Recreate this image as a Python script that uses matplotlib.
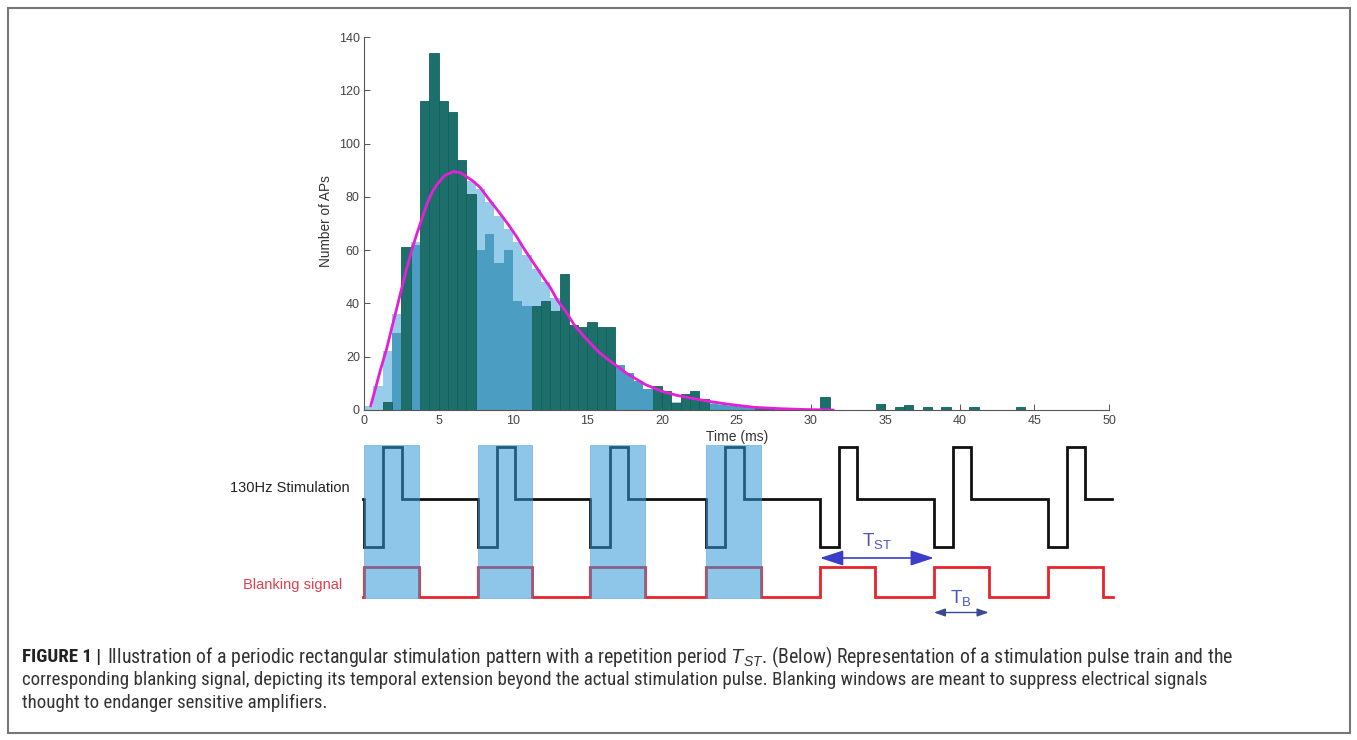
import matplotlib
matplotlib.use("Agg")
import matplotlib.pyplot as plt
from matplotlib.patches import Rectangle
from matplotlib import font_manager as fm

W, H = 1357, 740
plt.rcParams['font.family'] = ['Liberation Sans', 'DejaVu Sans']
plt.rcParams['mathtext.fontset'] = 'custom'
plt.rcParams['mathtext.rm'] = 'Liberation Sans'
plt.rcParams['mathtext.it'] = 'Liberation Sans:italic'
plt.rcParams['mathtext.bf'] = 'Liberation Sans:bold'

# ---------------- data ----------------
bin_width_ms = 0.625

# light-blue histogram (bins start at 0 ms, every 0.625 ms)
model_counts = [1.5, 9, 22, 36, 50, 63, 74, 81, 86, 88, 88, 86, 83, 78, 73, 68, 63,
                58, 53, 48, 42, 37, 32, 28, 24, 20, 17, 14, 11.5, 9.5, 8, 7, 6, 3,
                4.3, 3.7, 3.1, 2.6, 2.2, 1.8, 1.4, 1.1, 0.9, 0.7, 0.5, 0.4, 0.3,
                0.2, 0.2, 0.1, 0.1]

# medium-blue histogram
mid_left = [1.875, 3.125, 7.5, 8.125, 8.75, 9.375, 10.0, 10.625, 16.875, 17.5,
            18.125, 18.75, 23.125, 23.75, 24.375, 25.0, 25.625]
mid_counts = [29, 62, 60, 66, 55, 60, 41, 39, 17, 14, 11, 8, 2.2, 1.8, 1.5, 1.2, 1.0]

# dark-teal histogram
teal_left = [1.25, 2.5, 3.75, 4.375, 5.0, 5.625, 6.25, 6.875, 11.25, 11.875, 12.5,
             13.125, 13.75, 14.375, 15.0, 15.625, 16.25, 19.375, 20.0, 20.625,
             21.25, 21.875, 22.5, 26.25, 26.875, 30.625, 34.375, 35.625, 36.25,
             37.5, 38.75, 40.625, 43.75]
teal_counts = [3, 61, 116, 134, 116, 112, 94, 81, 39, 41, 37, 51, 32, 31, 33, 31,
               31, 9, 7, 2.5, 6, 7.3, 4, 1.2, 1.2, 5, 2.2, 1, 2, 1, 1, 1, 1]

# fitted curve (magenta)
curve_t = [0.45, 0.74, 1.1, 1.52, 1.85, 2.19, 2.5, 2.86, 3.2, 3.54, 3.9, 4.2, 4.55,
           4.88, 5.4, 6.0, 6.5, 6.9, 7.3, 7.8, 8.4, 9.1, 9.7, 10.25, 10.8, 11.4,
           12.0, 12.5, 13.0, 13.6, 14.1, 14.7, 15.2, 15.8, 16.6, 17.7, 18.9,
           20.0, 21.0, 22.0, 23.2, 24.4, 26.2, 27.9, 29.5, 31.5]
curve_v = [1.5, 7.5, 15, 23, 30.5, 38, 45, 53, 60, 66, 72, 77, 81.5, 84.5, 88,
           89.5, 89, 87.5, 86, 83.5, 79, 74, 69.5, 65, 60, 55, 50, 46, 41, 36.5,
           32, 28, 25, 21.5, 18, 13.5, 9.5, 7, 5.5, 4.4, 3.2, 2.2, 1.0, 0.5, 0.2, 0]

x_ticks = [0, 5, 10, 15, 20, 25, 30, 35, 40, 45, 50]
y_ticks = [0, 20, 40, 60, 80, 100, 120, 140]

# stimulation / blanking signals (ms)
pulse_starts = [0.0, 7.63, 15.2, 22.95, 30.6, 38.25, 45.9]
neg_phase_ms = 1.28
pos_phase_ms = 1.24
blank_ms = 3.67
n_shaded = 4

caption_lines = [
    "Illustration of a periodic rectangular stimulation pattern with a repetition "
    "period $T_{ST}$. (Below) Representation of a stimulation pulse train and the",
    "corresponding blanking signal, depicting its temporal extension beyond the actual "
    "stimulation pulse. Blanking windows are meant to suppress electrical signals",
    "thought to endanger sensitive amplifiers.",
]

# ---------------- colours ----------------
C_TEAL = '#1d6f6b'
C_MID = '#4c9dc2'
C_LIGHT = '#98cdea'
C_CURVE = '#e41fd6'
C_SHADE = '#2f98d6'
C_RED = '#e8232b'
C_ARROW = '#3b3ec9'

fig = plt.figure(figsize=(W / 100, H / 100), dpi=100)

# overlay (pixel coordinates)
ax0 = fig.add_axes([0, 0, 1, 1], zorder=-1)
ax0.set_xlim(0, W)
ax0.set_ylim(H, 0)
ax0.axis('off')
ax0.add_patch(Rectangle((8, 8), 1342, 725, fill=False, ec='#777777', lw=1.5))

# ---------------- histogram ----------------
ax = fig.add_axes([364 / W, 1 - 410 / H, 745 / W, 373 / H])
model_left = [k * bin_width_ms for k in range(len(model_counts))]
ax.bar(model_left, model_counts, width=bin_width_ms, align='edge', color=C_LIGHT,
       lw=0, zorder=1)
ax.bar(mid_left, mid_counts, width=bin_width_ms, align='edge', color=C_MID,
       lw=0, zorder=2)
ax.bar(teal_left, teal_counts, width=bin_width_ms, align='edge', color=C_TEAL,
       ec='#15605c', lw=0.6, zorder=3)
ax.plot(curve_t, curve_v, color=C_CURVE, lw=2.0, zorder=4, solid_capstyle='round')
ax.set_xlim(0, 50)
ax.set_ylim(0, 140)
ax.set_xticks(x_ticks)
ax.set_yticks(y_ticks)
ax.tick_params(direction='in', length=4, width=0.7, colors='#555555',
               labelsize=9, labelcolor='#444444')
ax.tick_params(axis='y', pad=3)
ax.tick_params(axis='x', pad=3.5)
for s in ['top', 'right']:
    ax.spines[s].set_visible(False)
for s in ['left', 'bottom']:
    ax.spines[s].set_color('#555555')
    ax.spines[s].set_linewidth(0.8)
ax.patch.set_alpha(0)

ax0.text(737, 437, 'Time (ms)', ha='center', va='center', fontsize=10,
         color='#333333')
ax0.text(326, 221, 'Number of APs', ha='center', va='center', rotation=90,
         fontsize=9.8, color='#333333')

# ---------------- signals ----------------
axs = fig.add_axes([364 / W, 1 - 620 / H, 745 / W, 180 / H])
axs.set_xlim(0, 50)
axs.set_ylim(-2.42, 1.18)
axs.axis('off')

ST_BASE, ST_HI, ST_LO = 0.0, 1.04, -0.96
BL_LO, BL_HI = -1.96, -1.36

sx, sy = [-0.05], [ST_BASE]
for t0 in pulse_starts:
    t1 = t0 + neg_phase_ms
    t2 = t1 + pos_phase_ms
    sx += [t0, t0, t1, t1, t2, t2]
    sy += [ST_BASE, ST_LO, ST_LO, ST_HI, ST_HI, ST_BASE]
sx.append(50.2)
sy.append(ST_BASE)
axs.plot(sx, sy, color='#111111', lw=2.0, clip_on=False, zorder=2,
         solid_joinstyle='miter')

bx, by = [-0.05], [BL_LO]
for t0 in pulse_starts:
    bx += [t0, t0, t0 + blank_ms, t0 + blank_ms]
    by += [BL_LO, BL_HI, BL_HI, BL_LO]
bx.append(50.3)
by.append(BL_LO)
axs.plot(bx, by, color=C_RED, lw=2.0, clip_on=False, zorder=2,
         solid_joinstyle='miter')

for t0 in pulse_starts[:n_shaded]:
    axs.add_patch(Rectangle((t0, -1.98), blank_ms, 3.06, fc=C_SHADE, alpha=0.55,
                            ec='#4a90c8', lw=0.6, zorder=5))

# T_ST arrow
t_a, t_b = pulse_starts[4], pulse_starts[5]
axs.annotate('', xy=(t_b, -1.18), xytext=(t_a, -1.18),
             arrowprops=dict(arrowstyle='<|-|>,head_length=0.55,head_width=0.18',
                             mutation_scale=26, color=C_ARROW, lw=1.2,
                             shrinkA=0, shrinkB=0), annotation_clip=False)
axs.text((t_a + t_b) / 2, -0.84, r'T$_\mathregular{ST}$', ha='center',
         va='center', fontsize=13.5, color='#4a55c8')
# T_B arrow
axs.annotate('', xy=(t_b + blank_ms, -2.27), xytext=(t_b, -2.27),
             arrowprops=dict(arrowstyle='<|-|>,head_length=0.45,head_width=0.16',
                             mutation_scale=15, color='#3a4a8c', lw=1.0,
                             shrinkA=0, shrinkB=0), annotation_clip=False)
axs.text(t_b + blank_ms / 2, -1.98, r'T$_\mathregular{B}$', ha='center',
         va='center', fontsize=13.5, color='#4a55c8')

ax0.text(350, 488, '130Hz Stimulation', ha='right', va='center', fontsize=10.5,
         color='#222222')
ax0.text(342, 585, 'Blanking signal', ha='right', va='center', fontsize=10.5,
         color='#e0404f')

# ---------------- caption ----------------
def pick_font():
    for name in ['Liberation Sans Narrow', 'Roboto Condensed', 'Liberation Sans']:
        try:
            fm.findfont(fm.FontProperties(family=name), fallback_to_default=False)
            return name
        except Exception:
            pass
    return 'DejaVu Sans'

cap_font = pick_font()
renderer = fig.canvas.get_renderer()
probe = ax0.text(22, 680, caption_lines[1], fontsize=10, family=cap_font,
                 va='center', color='#333333')
wid = probe.get_window_extent(renderer).width
cap_size = 10 * 1182 / wid
probe.set_fontsize(cap_size)

bold = ax0.text(22, 657, 'FIGURE 1 |', fontsize=cap_size, family=cap_font,
                weight='bold', va='center', color='#222222')
bb = bold.get_window_extent(renderer)
x_start = bb.x1 + 6
first = ax0.text(x_start, 657, caption_lines[0], fontsize=cap_size, family=cap_font,
                 va='center', color='#333333')
w1 = first.get_window_extent(renderer).width
first.set_fontsize(cap_size * (1231 - x_start) / w1)
ax0.text(22, 703, caption_lines[2], fontsize=cap_size, family=cap_font,
         va='center', color='#333333')

fig.savefig('out.png', dpi=100)
